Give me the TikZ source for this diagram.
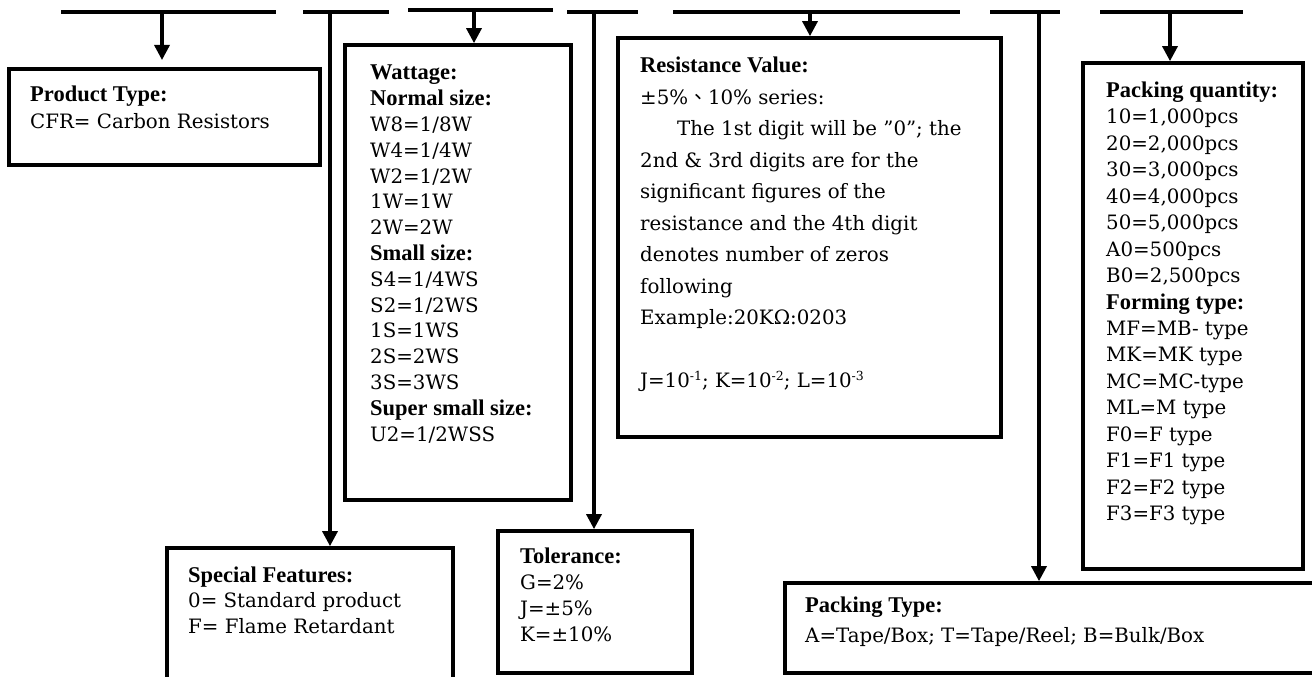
\documentclass[tikz,border=0pt]{standalone}
\usepackage{fontspec}
\setmainfont{DejaVu Serif}
\newfontfamily\headfont{Liberation Serif}
\newfontfamily\cjkfont{Noto Sans CJK TC}
\usetikzlibrary{arrows.meta}
\newcommand\hd[1]{{\headfont\bfseries\fontsize{22.5}{22.5}\selectfont #1}}
\newcommand\mysup[1]{\raisebox{0.4em}{\fontsize{12.5}{12.5}\selectfont #1}}
\newcommand\btext[2]{\parbox[t]{420pt}{\fontsize{19.8}{#1}\selectfont #2}}
\tikzset{
  boxnode/.style={draw, line width=3.7pt, inner sep=0pt},
  txt/.style={anchor=base west, inner sep=0pt},
  bar/.style={line width=4pt},
  conn/.style={line width=3.3pt},
  arr/.style={line width=3.3pt, -{Triangle[width=15pt,length=15pt]}}
}
\begin{document}
\begin{tikzpicture}[x=1pt,y=-1pt]
\useasboundingbox (0,0) rectangle (1312,677);
% top bars
\draw[bar] (61,12) -- (276,12);
\draw[bar] (303,12) -- (389,12);
\draw[bar] (408,10) -- (553,10);
\draw[bar] (567,12) -- (638,12);
\draw[bar] (673,12) -- (960,12);
\draw[bar] (990,12) -- (1060,12);
\draw[bar] (1100,12) -- (1243,12);
\coordinate (t1) at (162,12);
\coordinate (t2) at (330,12);
\coordinate (t3) at (474,10);
\coordinate (t4) at (594,12);
\coordinate (t5) at (810,12);
\coordinate (t6) at (1039,12);
\coordinate (t7) at (1170,12);
\coordinate (a1end) at (162,60);
% boxes
\node[boxnode, minimum width=311, minimum height=96] (prod) at (164.5,117) {};
\node[boxnode, minimum width=226, minimum height=455] (watt) at (458,272.5) {};
\node[boxnode, minimum width=383, minimum height=399] (res) at (809.5,237.5) {};
\node[boxnode, minimum width=220, minimum height=506] (pqty) at (1193,316) {};
\node[boxnode, minimum width=286, minimum height=160] (spec) at (310,628) {};
\node[boxnode, minimum width=194, minimum height=142] (tol) at (595,602) {};
\node[boxnode, minimum width=545, minimum height=90] (ptype) at (1057.5,628) {};
% connectors
\draw[arr] (t1) -- (a1end);
\draw[arr] (t2) -- (t2 |- spec.north);
\draw[arr] (t3) -- (t3 |- watt.north);
\draw[arr] (t4) -- (t4 |- tol.north);
\draw[arr] (t5) -- (t5 |- res.north);
\draw[arr] (t6) -- (t6 |- ptype.north);
\draw[arr] (t7) -- (t7 |- pqty.north);
% texts
\node[txt] (prodtxt) at (30,102) {\btext{26}{\hd{Product Type:}\\CFR= Carbon Resistors}};
\node[txt] (watttxt) at (370,80) {\btext{25.8}{\hd{Wattage:}\\\hd{Normal size:}\\W8=1/8W\\W4=1/4W\\W2=1/2W\\1W=1W\\2W=2W\\\hd{Small size:}\\S4=1/4WS\\S2=1/2WS\\1S=1WS\\2S=2WS\\3S=3WS\\\hd{Super small size:}\\U2=1/2WSS}};
\node[txt] (restxt) at (640,73) {\btext{31.5}{\hd{Resistance Value:}\\±5\%{\cjkfont 、}10\% series:\\\hspace*{37pt}The 1st digit will be ”0”; the\\2nd \& 3rd digits are for the\\significant figures of the\\resistance and the 4th digit\\denotes number of zeros\\following\\Example:20KΩ:0203\\\mbox{}\\J=10\mysup{-1}; K=10\mysup{-2}; L=10\mysup{-3}}};
\node[txt] (pqtytxt) at (1106,97) {\btext{26.5}{\hd{Packing quantity:}\\10=1,000pcs\\20=2,000pcs\\30=3,000pcs\\40=4,000pcs\\50=5,000pcs\\A0=500pcs\\B0=2,500pcs\\\hd{Forming type:}\\MF=MB- type\\MK=MK type\\MC=MC-type\\ML=M type\\F0=F type\\F1=F1 type\\F2=F2 type\\F3=F3 type}};
\node[txt] (spectxt) at (188,582) {\btext{25.5}{\hd{Special Features:}\\0= Standard product\\F= Flame Retardant}};
\node[txt] (toltxt) at (520,563) {\btext{26}{\hd{Tolerance:}\\G=2\%\\J=±5\%\\K=±10\%}};
\node[txt] (ptypetxt) at (805,612) {\btext{30}{\hd{Packing Type:}\\A=Tape/Box; T=Tape/Reel; B=Bulk/Box}};
\end{tikzpicture}
\end{document}
